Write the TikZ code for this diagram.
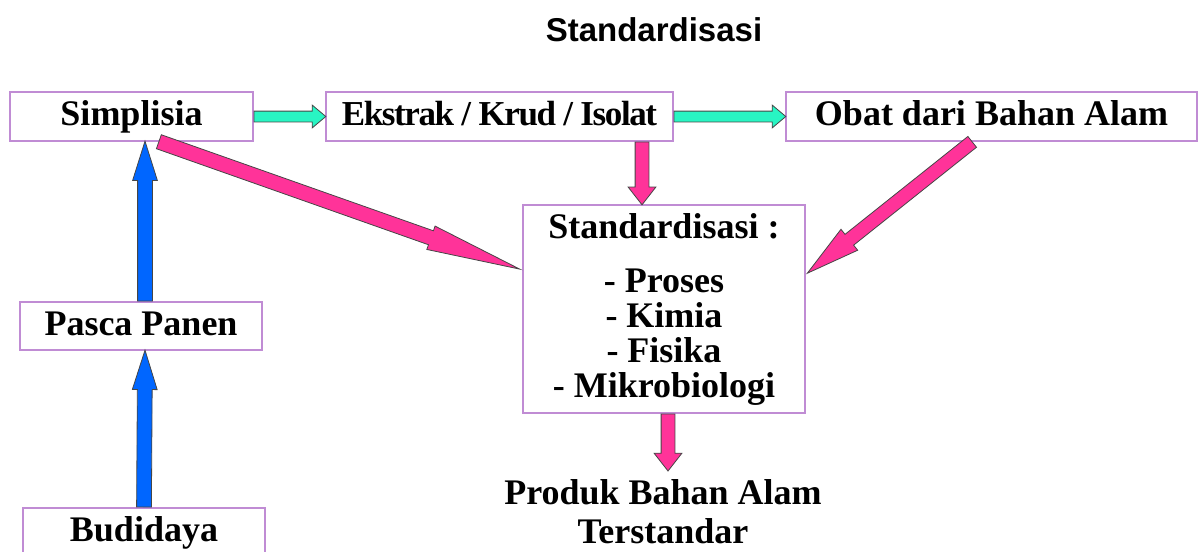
\documentclass[tikz,border=0pt]{standalone}
\usepackage{fontspec}
\setmainfont{Liberation Serif}
\newfontfamily\titlefont{Liberation Sans}
\newfontfamily\tightserif[LetterSpace=-4]{Liberation Serif}
\usetikzlibrary{calc,shapes.arrows}

\definecolor{boxline}{RGB}{192,140,212}
\definecolor{arrowline}{RGB}{70,70,70}
\definecolor{tealfill}{RGB}{40,245,195}
\definecolor{pinkfill}{RGB}{255,51,153}
\definecolor{bluefill}{RGB}{0,102,255}

% block arrow between two named points
\newcommand{\fatlink}[3]{%
    \path let \p1=($(#3)-(#2)$), \n1={veclen(\x1,\y1)} in
        (#2) -- node[#1, pos=0, anchor=tail, minimum height=\n1] {} (#3);}

\begin{document}
\begin{tikzpicture}[x=1pt, y=-1pt,
    box/.style={draw=boxline, line width=1.2pt, fill=white, inner sep=0pt,
        minimum height=49, font=\fontsize{36}{35}\selectfont\bfseries},
    oneline/.style={text height=24, text depth=6},
    fatarrow/.style={single arrow, draw=arrowline, line width=0.8pt, inner xsep=0pt,
        sloped, allow upside down},
    tealarrow/.style={fatarrow, fill=tealfill, inner ysep=5,
        single arrow head extend=6, single arrow tip angle=80},
    pinkdown/.style={fatarrow, fill=pinkfill, inner ysep=6.5,
        single arrow head extend=7, single arrow tip angle=76},
    pinkleft/.style={fatarrow, fill=pinkfill, inner ysep=7,
        single arrow head extend=5, single arrow tip angle=15},
    pinkright/.style={fatarrow, fill=pinkfill, inner ysep=6.5,
        single arrow head extend=6.5, single arrow tip angle=28},
    bluearrow/.style={fatarrow, fill=bluefill, inner ysep=7,
        single arrow head extend=5, single arrow tip angle=35}]
    \useasboundingbox (0,0) rectangle (1198,551);

    % Title
    \node[font=\titlefont\fontsize{33}{36}\selectfont\bfseries] (title) at (654,30) {Standardisasi};

    % Top row
    \node[box, oneline, minimum width=243] (simplisia) at (131.5,116.5) {Simplisia};
    \node[box, oneline, minimum width=347, font=\tightserif\fontsize{35}{35}\selectfont\bfseries] (ekstrak) at (499.5,116.5) {Ekstrak / Krud / Isolat};
    \node[box, oneline, minimum width=411] (obat) at (991.5,116.5) {Obat dari Bahan Alam};

    % Left column
    \node[box, oneline, minimum width=242, minimum height=48] (pasca) at (141,326) {Pasca Panen};
    \node[box, oneline, minimum width=242] (budidaya) at (144,532.5) {Budidaya};

    % Standardisation box
    \node[box, minimum width=282, minimum height=208, align=center] (std) at (664,309)
        {Standardisasi :\\[19pt] - Proses\\ - Kimia\\ - Fisika\\ - Mikrobiologi};

    % Result
    \node[font=\fontsize{36}{39}\selectfont\bfseries, align=center] (produk) at (663,512)
        {Produk Bahan Alam\\ Terstandar};

    % Arrow end points
    \coordinate (s1) at ($(simplisia.south)+(13.5,0)$);
    \coordinate (s2) at ($(simplisia.south)+(27,0)$);
    \coordinate (p1) at ($(pasca.north)+(4,0)$);
    \coordinate (p2) at ($(pasca.south)+(4,0)$);
    \coordinate (b1) at (budidaya.north);
    \coordinate (e1) at ($(std.north)+(-22,0)$);
    \coordinate (e0) at (ekstrak.south -| e1);
    \coordinate (l1) at ($(std.west)+(-3,-40)$);
    \coordinate (o1) at ($(obat.south)+(-19,0)$);
    \coordinate (r1) at ($(std.east)+(2,-36)$);
    \coordinate (d0) at ($(std.south)+(4,0)$);
    \coordinate (d1) at ($(d0)+(0,57)$);

    % Teal arrows
    \fatlink{tealarrow}{simplisia.east}{ekstrak.west}
    \fatlink{tealarrow}{ekstrak.east}{obat.west}

    % Blue arrows
    \fatlink{bluearrow}{b1}{p2}
    \fatlink{bluearrow}{p1}{s1}

    % Pink arrows
    \fatlink{pinkleft}{s2}{l1}
    \fatlink{pinkdown}{e0}{e1}
    \fatlink{pinkright}{o1}{r1}
    \fatlink{pinkdown}{d0}{d1}
\end{tikzpicture}
\end{document}
